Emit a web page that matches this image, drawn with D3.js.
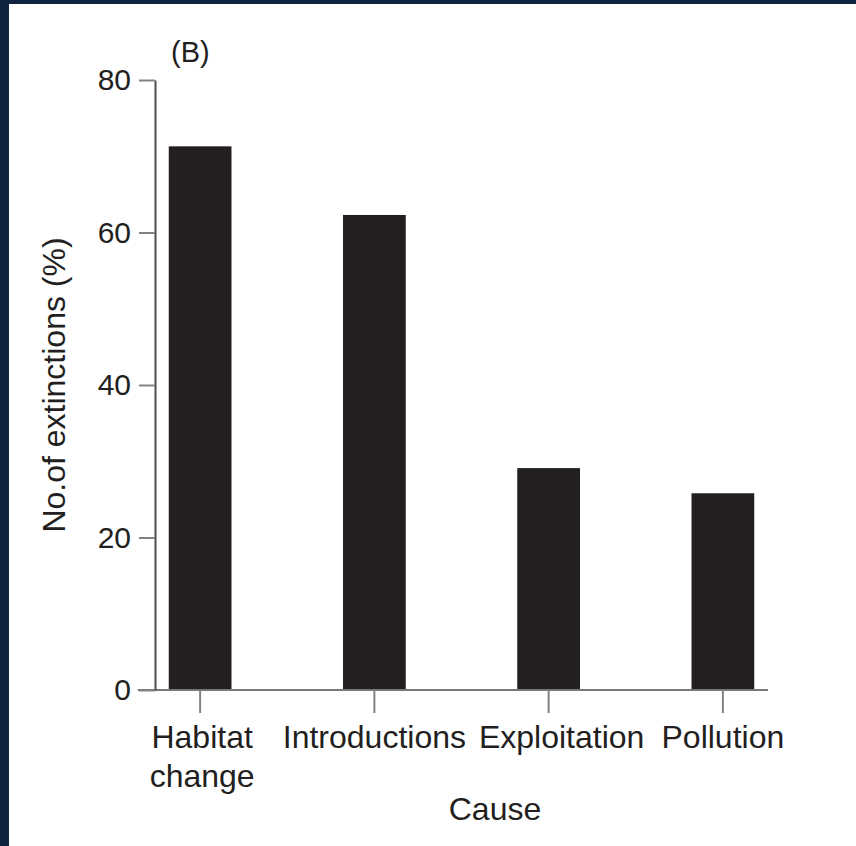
<!DOCTYPE html>
<html>
<head>
<meta charset="utf-8">
<script src="https://cdn.jsdelivr.net/npm/d3@7"></script>
<style>
  html, body { margin: 0; padding: 0; background: #0e2440; }
  svg { display: block; }
  text { font-family: "Liberation Sans", Arial, Helvetica, sans-serif; fill: #231f20; }
</style>
</head>
<body>
<script>
const categories = ["Habitat change", "Introductions", "Exploitation", "Pollution"];
const values = [71.3, 62.3, 29.1, 25.8];
const yTicks = [0, 20, 40, 60, 80];
const panelLabel = "(B)";
const xTitle = "Cause";
const yTitle = "No.of extinctions (%)";

// layout-only: horizontal nudge of each category label (px)
const labelNudge = [2, 0, 13, 0];

const W = 856, H = 846;
const svg = d3.select("body").append("svg").attr("width", W).attr("height", H);
svg.append("rect").attr("x", 0).attr("y", 0).attr("width", W).attr("height", H).attr("fill", "#0e2440");
svg.append("rect").attr("x", 9).attr("y", 4).attr("width", W - 9).attr("height", H - 4).attr("fill", "#ffffff");

const y = d3.scaleLinear().domain([0, 80]).range([690, 80]);
const x = d3.scaleBand().domain(categories).range([113, 810]).paddingInner(0.64).paddingOuter(0.32);

// bars
svg.append("g").selectAll("rect").data(categories).join("rect")
  .attr("x", d => x(d))
  .attr("width", x.bandwidth())
  .attr("y", (d, i) => y(values[i]))
  .attr("height", (d, i) => y(0) - y(values[i]))
  .attr("fill", "#231f20");

// x axis line
svg.append("line").attr("x1", 138).attr("x2", 768).attr("y1", y(0)).attr("y2", y(0))
  .attr("stroke", "#77787b").attr("stroke-width", 2);

// y axis
const yAxis = d3.axisLeft(y).tickValues(yTicks).tickSize(16).tickSizeOuter(0).tickPadding(8);
const gy = svg.append("g").attr("transform", "translate(155,0)").call(yAxis);
gy.select(".domain").attr("stroke", "#4d4d4f").attr("stroke-width", 2);
gy.selectAll(".tick line").attr("stroke", "#808285").attr("stroke-width", 2);
gy.selectAll(".tick text").attr("font-size", 30).attr("fill", "#231f20")
  .attr("font-family", "Liberation Sans, Arial, sans-serif");

// x axis ticks
const xAxis = d3.axisBottom(x).tickSize(23).tickSizeOuter(0).tickFormat("");
const gx = svg.append("g").attr("transform", `translate(0,${y(0)})`).call(xAxis);
gx.select(".domain").remove();
gx.selectAll(".tick line").attr("stroke", "#808285").attr("stroke-width", 2);

// x labels (multi-line)
const lbl = svg.append("g").selectAll("text").data(categories).join("text")
  .attr("text-anchor", "middle")
  .attr("font-size", 32)
  .attr("transform", (d, i) => `translate(${x(d) + x.bandwidth() / 2 + labelNudge[i]},748)`);
lbl.each(function(d) {
  const parts = d === "Habitat change" ? ["Habitat", "change"] : [d];
  const t = d3.select(this);
  parts.forEach((p, i) => t.append("tspan").attr("x", 0).attr("dy", i === 0 ? 0 : 39).text(p));
});

// axis titles
svg.append("text").attr("x", 495).attr("y", 820).attr("text-anchor", "middle")
  .attr("font-size", 32).text(xTitle);
svg.append("text").attr("transform", "translate(65,385) rotate(-90)")
  .attr("text-anchor", "middle").attr("font-size", 32).text(yTitle);

// panel label
svg.append("text").attr("x", 171).attr("y", 62).attr("font-size", 29).text(panelLabel);
</script>
</body>
</html>
